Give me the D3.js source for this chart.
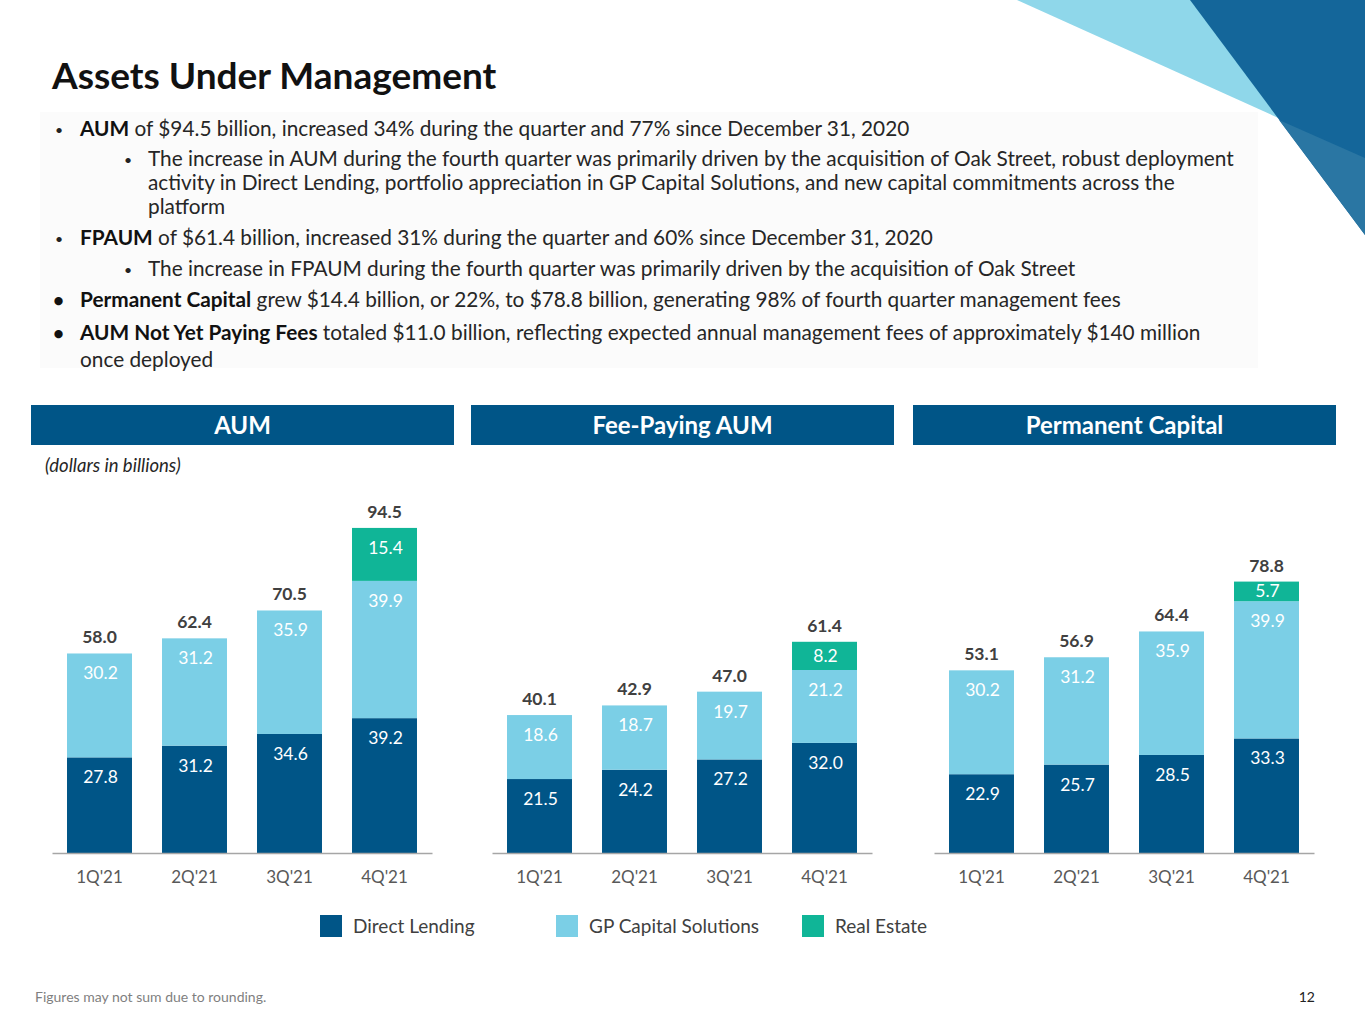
<!DOCTYPE html>
<html>
<head>
<meta charset="utf-8">
<script src="https://cdn.jsdelivr.net/npm/d3@7"></script>
<style>
  body { margin: 0; background: #fff; }
  svg { font-family: Lato, "Noto Sans", sans-serif; }
</style>
</head>
<body>
<div id="slide"></div>
<script>
// data
var quarters = ["1Q'21", "2Q'21", "3Q'21", "4Q'21"];
var seriesNames = ["Direct Lending", "GP Capital Solutions", "Real Estate"];

var aumDL = [27.8, 31.2, 34.6, 39.2];
var aumGP = [30.2, 31.2, 35.9, 39.9];
var aumRE = [0, 0, 0, 15.4];
var aumTotal = [58.0, 62.4, 70.5, 94.5];

var fpDL = [21.5, 24.2, 27.2, 32.0];
var fpGP = [18.6, 18.7, 19.7, 21.2];
var fpRE = [0, 0, 0, 8.2];
var fpTotal = [40.1, 42.9, 47.0, 61.4];

var pcDL = [22.9, 25.7, 28.5, 33.3];
var pcGP = [30.2, 31.2, 35.9, 39.9];
var pcRE = [0, 0, 0, 5.7];
var pcTotal = [53.1, 56.9, 64.4, 78.8];

var colors = ["#005587", "#7bcfe6", "#10b597"];
var navy = "#005587";

var svg = d3.select("#slide").append("svg")
    .attr("width", 1365).attr("height", 1024);

// corner decoration
svg.append("polygon").attr("points", "1017,0 1365,0 1365,157").attr("fill", "#8fd7ea");
svg.append("polygon").attr("points", "1190,0 1365,0 1365,235").attr("fill", "#14669a");
svg.append("polygon").attr("points", "1279,120 1365,158 1365,235").attr("fill", "#2a76a3");

// title
svg.append("text")
    .attr("x", 52).attr("y", 89)
    .style("font-size", "37px").style("font-weight", 700)
    .attr("fill", "#111")
    .text("Assets Under Management");

// faint box behind bullets
svg.append("rect").attr("x", 40).attr("y", 112).attr("width", 1218).attr("height", 256)
    .attr("fill", "#fbfbfb");

var bullets = [
  {lvl: 1, y: 136, b: "AUM", t: " of $94.5 billion, increased 34% during the quarter and 77% since December 31, 2020"},
  {lvl: 2, y: 166, b: "", t: "The increase in AUM during the fourth quarter was primarily driven by the acquisition of Oak Street, robust deployment"},
  {lvl: 0, y: 190, b: "", t: "activity in Direct Lending, portfolio appreciation in GP Capital Solutions, and new capital commitments across the"},
  {lvl: 0, y: 214, b: "", t: "platform"},
  {lvl: 1, y: 245, b: "FPAUM", t: " of $61.4 billion, increased 31% during the quarter and 60% since December 31, 2020"},
  {lvl: 2, y: 276, b: "", t: "The increase in FPAUM during the fourth quarter was primarily driven by the acquisition of Oak Street"},
  {lvl: 3, y: 307, b: "Permanent Capital", t: " grew $14.4 billion, or 22%, to $78.8 billion, generating 98% of fourth quarter management fees"},
  {lvl: 3, y: 340, b: "AUM Not Yet Paying Fees", t: " totaled $11.0 billion, reflecting expected annual management fees of approximately $140 million"},
  {lvl: 1, y: 367, b: "", t: "once deployed"}
];

bullets.forEach(function(d) {
  var x = (d.lvl == 2 || (d.lvl == 0)) ? 148 : 80;
  if (d.lvl == 1 && d.b) {
    svg.append("text").attr("x", 55).attr("y", d.y - 1).style("font-size", "14px").attr("fill", "#222").text("•");
  }
  if (d.lvl == 3) {
    svg.append("text").attr("x", 53).attr("y", d.y).style("font-size", "19px").style("font-weight", 700).attr("fill", "#111").text("•");
  }
  if (d.lvl == 2) {
    svg.append("text").attr("x", 124).attr("y", d.y - 1).style("font-size", "14px").attr("fill", "#222").text("•");
  }
  var t = svg.append("text").attr("x", x).attr("y", d.y)
      .style("font-size", "20.8px").attr("fill", "#262626");
  if (d.b) t.append("tspan").style("font-weight", 700).attr("fill", "#111").text(d.b);
  t.append("tspan").text(d.t);
});

// y scale shared by all three panels
var yScale = d3.scaleLinear().domain([0, 100]).range([853, 509]);

var panels = [
  {title: "AUM", x: 31, dl: aumDL, gp: aumGP, re: aumRE, total: aumTotal},
  {title: "Fee-Paying AUM", x: 471, dl: fpDL, gp: fpGP, re: fpRE, total: fpTotal},
  {title: "Permanent Capital", x: 913, dl: pcDL, gp: pcGP, re: pcRE, total: pcTotal}
];

panels.forEach(function(p) {
  // header band
  svg.append("rect").attr("x", p.x).attr("y", 405).attr("width", 423).attr("height", 40).attr("fill", navy);
  svg.append("text").attr("x", p.x + 211.5).attr("y", 434)
      .attr("text-anchor", "middle").attr("fill", "#fff")
      .style("font-size", "24px").style("font-weight", 700)
      .text(p.title);

  var g = svg.append("g").attr("transform", "translate(" + (p.x + 21) + ",0)");

  var xScale = d3.scaleBand().domain(quarters).range([0, 380])
      .paddingInner(0.316).paddingOuter(0.158);

  var rows = quarters.map(function(q, i) {
    return {q: q, dl: p.dl[i], gp: p.gp[i], re: p.re[i], total: p.total[i]};
  });
  var stack = d3.stack().keys(["dl", "gp", "re"])(rows);

  stack.forEach(function(layer, k) {
    layer.forEach(function(d) {
      var v = d[1] - d[0];
      if (v <= 0) return;
      var top = yScale(d[1]), h = yScale(d[0]) - yScale(d[1]);
      g.append("rect")
          .attr("x", xScale(d.data.q)).attr("y", top)
          .attr("width", xScale.bandwidth()).attr("height", h)
          .attr("fill", colors[k]);
      var ly = h < 45 ? top + h / 2 + 6 : top + 26;
      g.append("text")
          .attr("x", xScale(d.data.q) + xScale.bandwidth() / 2 + 1).attr("y", ly)
          .attr("text-anchor", "middle").attr("fill", "#fff")
          .style("font-size", "17.5px")
          .text(v.toFixed(1));
    });
  });

  // totals
  g.selectAll(".total").data(rows).enter().append("text")
      .attr("x", function(d) { return xScale(d.q) + xScale.bandwidth() / 2; })
      .attr("y", function(d) { return yScale(d.dl + d.gp + d.re) - 10; })
      .attr("text-anchor", "middle").attr("fill", "#404040")
      .style("font-size", "17.5px").style("font-weight", 700)
      .text(function(d) { return d.total.toFixed(1); });

  // x axis
  var xAxis = d3.axisBottom(xScale).tickSize(0).tickPadding(18);
  var ax = g.append("g").attr("transform", "translate(0,853)").call(xAxis);
  ax.select(".domain").attr("stroke", "#a6a6a6").attr("stroke-width", 1.5);
  ax.selectAll("text").style("font-size", "17px").style("font-family", "Lato, sans-serif").attr("fill", "#595959");
});

svg.append("text").attr("x", 45).attr("y", 472)
    .style("font-size", "18.5px").style("font-style", "italic").attr("fill", "#262626")
    .text("(dollars in billions)");

// legend
var legendX = [320, 556, 802];
var legend = svg.selectAll(".legend").data(seriesNames).enter().append("g")
    .attr("transform", function(d, i) { return "translate(" + legendX[i] + ",915)"; });
legend.append("rect").attr("width", 22).attr("height", 22)
    .attr("fill", function(d, i) { return colors[i]; });
legend.append("text").attr("x", 33).attr("y", 18)
    .style("font-size", "19px").attr("fill", "#404040")
    .text(function(d) { return d; });

// footer
svg.append("text").attr("x", 35).attr("y", 1002)
    .style("font-size", "14px").attr("fill", "#7f7f7f")
    .text("Figures may not sum due to rounding.");
svg.append("text").attr("x", 1315).attr("y", 1002).attr("text-anchor", "end")
    .style("font-size", "14px").attr("fill", "#222")
    .text("12");
</script>
</body>
</html>
